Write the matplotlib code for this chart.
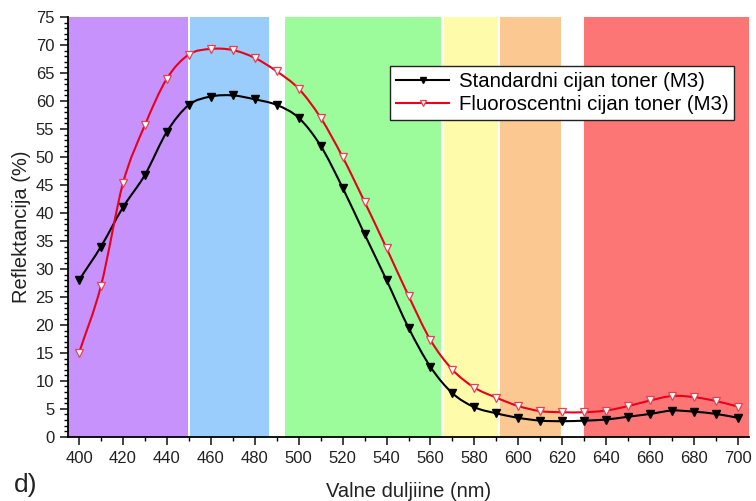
import numpy as np
import matplotlib
matplotlib.use('Agg')
import matplotlib.pyplot as plt
from matplotlib.path import Path
from matplotlib.patches import PathPatch

plt.rcParams['font.family'] = ['Liberation Sans', 'DejaVu Sans']

# wavelengths (nm) and reflectance (%)
wavelengths = [400, 410, 420, 430, 440, 450, 460, 470, 480, 490, 500,
               510, 520, 530, 540, 550, 560, 570, 580, 590, 600,
               610, 620, 630, 640, 650, 660, 670, 680, 690, 700]
standard = [28.0, 34.0, 41.0, 46.8, 54.5, 59.3, 60.8, 61.0, 60.3, 59.3, 57.0,
            52.0, 44.5, 36.2, 28.0, 19.5, 12.5, 7.8, 5.3, 4.2, 3.4,
            2.9, 2.8, 2.9, 3.1, 3.6, 4.1, 4.7, 4.5, 4.1, 3.4]
fluoro = [15.0, 27.0, 45.3, 55.7, 64.0, 68.3, 69.3, 69.1, 67.7, 65.3, 62.2,
          57.0, 50.0, 42.0, 33.7, 25.2, 17.3, 12.0, 8.8, 7.0, 5.5,
          4.6, 4.4, 4.4, 4.7, 5.5, 6.5, 7.3, 7.1, 6.4, 5.4]
labels = ['Standardni cijan toner (M3)', 'Fluoroscentni cijan toner (M3)']

# visible spectrum bands (nm)
bands = [(395, 449.6, '#c892fc'), (450.6, 486.5, '#9acdfc'),
         (494, 565, '#9cfc9c'), (566.2, 590.6, '#fefcaa'),
         (591.6, 619.5, '#fcc892'), (630, 705, '#fd7676')]


def smooth_path(x, y):
    # Catmull-Rom through the points, written as cubic Bezier segments
    x = np.asarray(x, float)
    y = np.asarray(y, float)
    px = np.concatenate([[2 * x[0] - x[1]], x, [2 * x[-1] - x[-2]]])
    py = np.concatenate([[2 * y[0] - y[1]], y, [2 * y[-1] - y[-2]]])
    verts = [(x[0], y[0])]
    codes = [Path.MOVETO]
    for i in range(1, len(px) - 2):
        c1 = (px[i] + (px[i + 1] - px[i - 1]) / 6, py[i] + (py[i + 1] - py[i - 1]) / 6)
        c2 = (px[i + 1] - (px[i + 2] - px[i]) / 6, py[i + 1] - (py[i + 2] - py[i]) / 6)
        verts += [c1, c2, (px[i + 1], py[i + 1])]
        codes += [Path.CURVE4] * 3
    return Path(verts, codes)


fig = plt.figure(figsize=(7.56, 5.01), dpi=100)
ax = fig.add_axes([0.09, 0.128, 0.9007, 0.838])

for lo, hi, c in bands:
    ax.axvspan(lo, hi, color=c, lw=0, zorder=0)

ax.add_patch(PathPatch(smooth_path(wavelengths, standard), fill=False,
                       edgecolor='black', lw=1.5, zorder=3))
ax.add_patch(PathPatch(smooth_path(wavelengths, fluoro), fill=False,
                       edgecolor='#e8001c', lw=1.5, zorder=3))
ax.plot(wavelengths, standard, ls='none', marker='v', ms=6,
        color='black', zorder=4)
ax.plot(wavelengths, fluoro, ls='none', marker='v', ms=6,
        mfc='white', mec='#e84050', mew=0.9, zorder=4)

# legend handles with line + marker
h1, = ax.plot([], [], color='black', lw=1.5, marker='v', ms=5)
h2, = ax.plot([], [], color='#e8001c', lw=1.5, marker='v', ms=5,
              mfc='white', mec='#e84050', mew=0.9)
leg = ax.legend([h1, h2], labels, loc='upper left',
                bbox_to_anchor=(0.473, 0.884), fontsize=14.7, frameon=True,
                fancybox=False, edgecolor='#222222', framealpha=1,
                borderpad=0.3, handlelength=2.6, handletextpad=0.45,
                labelspacing=0.2, borderaxespad=0)
leg.get_frame().set_linewidth(1.0)
leg.set_zorder(5)

ax.set_xlim(395, 705)
ax.set_ylim(0, 75)
ax.set_xticks(np.arange(400, 701, 20))
ax.set_xticks(np.arange(410, 700, 20), minor=True)
ax.set_yticks(np.arange(0, 76, 5))
ax.set_yticks(np.arange(0, 76, 1), minor=True)
ax.tick_params(which='major', direction='out', length=6, width=1.2,
               labelsize=12, colors='#222222', pad=4)
ax.tick_params(which='minor', direction='out', length=3, width=1.0)
ax.spines['top'].set_visible(False)
ax.spines['right'].set_visible(False)
ax.spines['left'].set_linewidth(1.3)
ax.spines['bottom'].set_linewidth(1.3)

ax.set_xlabel('Valne duljiine (nm)', fontsize=14.5, labelpad=12, color='#222222')
ax.set_ylabel('Reflektancija (%)', fontsize=14.5, labelpad=3, color='#222222')
fig.text(0.018, 0.018, 'd)', fontsize=19, color='#222222')

fig.savefig('out.png', dpi=100)
